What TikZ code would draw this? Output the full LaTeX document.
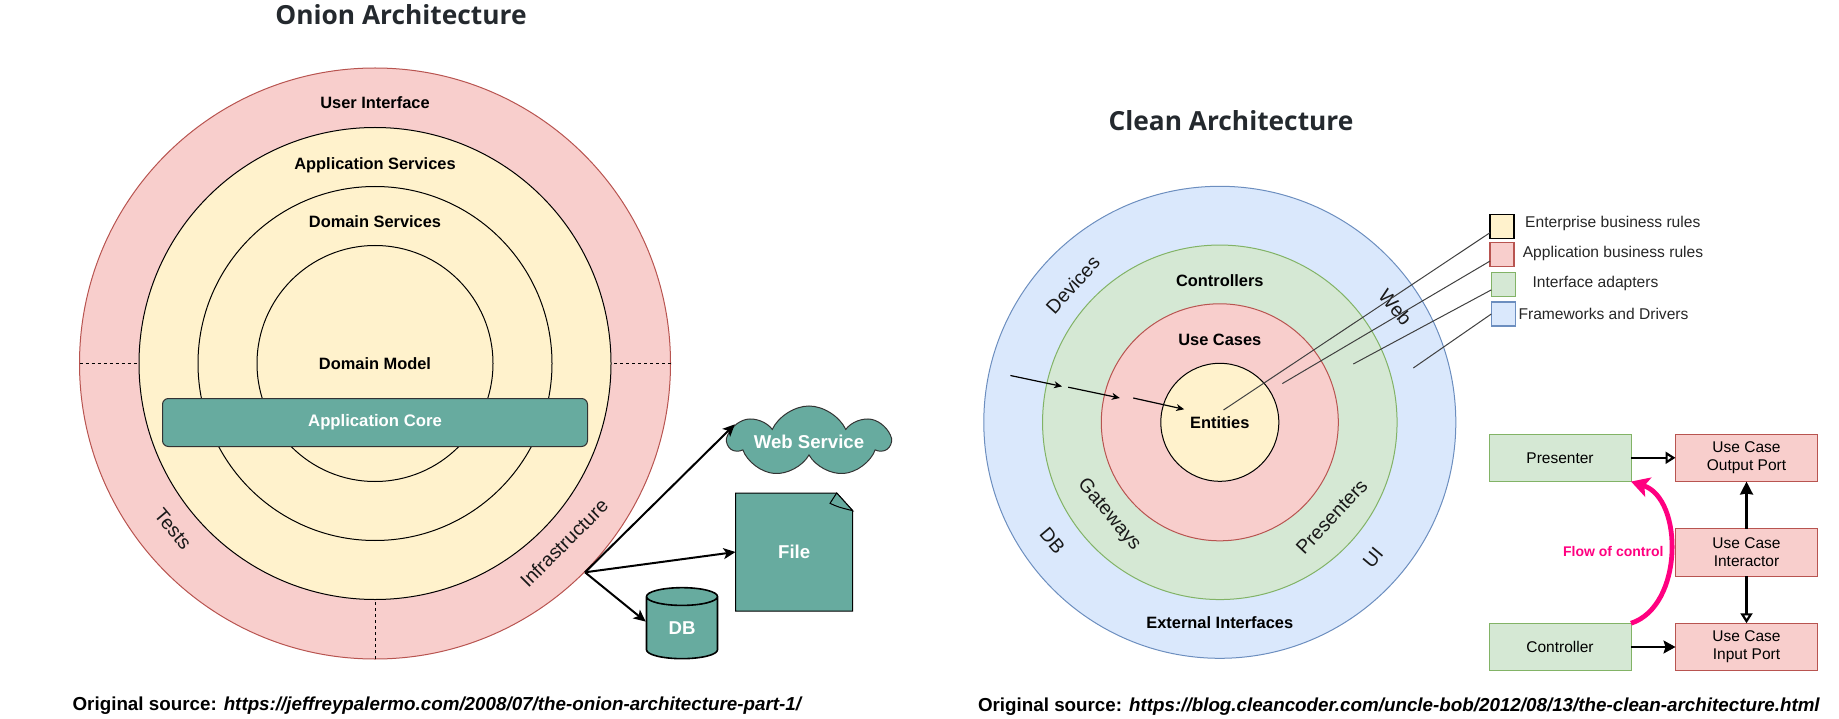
\documentclass[tikz,border=0pt]{standalone}
\usepackage{fontspec}
\setmainfont{Liberation Sans}
\newfontfamily\titlefont{Open Sans}
\usepackage{tikz}
\usetikzlibrary{shapes, shapes.geometric, shapes.symbols, positioning, arrows.meta, calc}

\definecolor{redfill}{HTML}{F8CECC}
\definecolor{reddraw}{HTML}{B85450}
\definecolor{yellowfill}{HTML}{FFF2CC}
\definecolor{greenfill}{HTML}{D5E8D4}
\definecolor{greendraw}{HTML}{82B366}
\definecolor{bluefill}{HTML}{DAE8FC}
\definecolor{bluedraw}{HTML}{6C8EBF}
\definecolor{tealfill}{HTML}{67AB9F}
\definecolor{titleink}{HTML}{24292E}
\definecolor{flowpink}{HTML}{FF0080}

\begin{document}
\begin{tikzpicture}[
    x=1pt, y=-1pt,
    ring/.style={circle, draw=black, fill=yellowfill, inner sep=0pt, outer sep=0pt, line width=1pt},
    bigtitle/.style={font=\titlefont\fontsize{26.3}{30}\selectfont\bfseries, text=titleink},
    label/.style={font=\fontsize{16.4}{19}\selectfont\bfseries, inner sep=0pt},
    slanted/.style={font=\fontsize{19.5}{22}\selectfont, inner sep=0pt, text=black!90},
    whitelabel/.style={font=\fontsize{18.6}{21}\selectfont\bfseries, text=white},
    plain/.style={font=\fontsize{15.6}{18}\selectfont, inner sep=0pt, text=black!85},
    source/.style={font=\fontsize{18.8}{22}\selectfont\bfseries, inner sep=0pt},
    legendbox/.style={draw, minimum size=24pt, inner sep=0pt, outer sep=0pt, line width=1.2pt},
    portbox/.style={draw=reddraw, fill=redfill, minimum width=142pt, minimum height=47.5pt, inner sep=0pt, outer sep=0pt, align=center, line width=1pt, font=\fontsize{15.5}{18}\selectfont},
    adapterbox/.style={draw=greendraw, fill=greenfill, minimum width=142pt, minimum height=47.5pt, inner sep=0pt, outer sep=0pt, line width=1pt, font=\fontsize{15.5}{18}\selectfont},
    link/.style={-{Stealth[length=12pt, width=11pt, inset=3pt]}, line width=2pt},
    hollow/.style={-{Triangle[open, fill=white, length=10pt, width=12pt]}, line width=2.2pt},
    solid head/.style={-{Stealth[length=13pt, width=13pt, inset=1pt]}, line width=2.2pt},
    small link/.style={-{Stealth[length=8pt, width=7pt, inset=2.5pt]}, line width=1.2pt},
    leader/.style={draw=black!75, line width=1pt}
]
    % --- ONION ARCHITECTURE ---
    \useasboundingbox (0,0) rectangle (1839,719);
    \node[bigtitle] (oniontitle) at (401,15) {Onion Architecture};

    \node[ring, draw=reddraw, fill=redfill, minimum size=591pt] (uiring) at (375,363.5) {};
    \node[ring, minimum size=472pt] (servicering) at (375,363.5) {};
    \node[ring, minimum size=354pt] (domainring) at (375,363.5) {};
    \node[ring, minimum size=236pt, label] (modelring) at (375,363.5) {Domain Model};

    % layer borders
    \draw[dashed] (uiring.west)--(servicering.west);
    \draw[dashed] (uiring.east)--(servicering.east);
    \draw[dashed] (uiring.south)--(servicering.south);

    \node[draw=black!80, fill=tealfill, rounded corners=6pt, minimum width=425pt, minimum height=48pt, inner sep=0pt, line width=1pt, font=\fontsize{16.7}{19}\selectfont\bfseries, text=white] (core) at (375,422.5) {Application Core};

    \node[label] (ui) at (375,103) {User Interface};
    \node[label] (appservices) at (375,165.6) {Application Services};
    \node[label] (domainservices) at (375,221.5) {Domain Services};
    \node[slanted, rotate=-50] (tests) at (173,529) {Tests};
    \node[slanted, rotate=45] (infra) at (564,543) {Infrastructure};

    % outside world
    \node[draw=black!80, fill=tealfill, shape=cloud, cloud puffs=7, cloud puff arc=130, cloud ignores aspect, minimum width=160pt, minimum height=71pt, inner sep=0pt, line width=1pt, whitelabel] (webservice) at (809,441.5) {Web Service};

    \filldraw[fill=tealfill, draw=black, line width=1pt] (735.7,493) -- (836.7,493) -- (852.7,510.7) -- (852.7,611) -- (735.7,611) -- cycle;
    \filldraw[fill=tealfill, draw=black, line width=1pt] (836.7,493) .. controls (834,498) .. (830,503.3) .. controls (838,507) .. (852.7,510.7) -- cycle;
    \node[whitelabel, minimum width=117pt, minimum height=118pt, inner sep=0pt] (file) at (794.2,552) {File};

    \node[draw=black, fill=tealfill, shape=cylinder, shape border rotate=90, aspect=0.66, minimum width=71pt, minimum height=71pt, inner sep=0pt, line width=1.6pt, whitelabel] (db) at (682,628) {DB};

    \coordinate (infraout) at (585,572.3);
    \draw[link] (infraout)--(webservice.167);
    \draw[link] (infraout)--(file.west);
    \draw[link] (infraout)--(db.170);

    \node[source] (onionsource) at (437.7,705.5) {Original source: \textit{https://jeffreypalermo.com/2008/07/the-onion-architecture-part-1/}};

    % --- CLEAN ARCHITECTURE ---
    \node[bigtitle] (cleantitle) at (1231,121) {Clean Architecture};

    \node[ring, draw=bluedraw, fill=bluefill, minimum size=472pt] (frameworks) at (1219.8,422.3) {};
    \node[ring, draw=greendraw, fill=greenfill, minimum size=354.5pt] (adapters) at (1219.8,422.3) {};
    \node[ring, draw=reddraw, fill=redfill, minimum size=237pt] (usecases) at (1219.8,422.3) {};
    \node[ring, minimum size=118pt, label] (entities) at (1219.8,422.3) {Entities};

    \node[label] (controllers) at (1219.8,280.8) {Controllers};
    \node[label] (usecaselabel) at (1219.8,340) {Use Cases};
    \node[label] (external) at (1219.8,623) {External Interfaces};
    \node[slanted, rotate=48] (devices) at (1072.7,284.8) {Devices};
    \node[slanted, rotate=-50] (web) at (1395.5,307) {Web};
    \node[slanted, rotate=-50] (gateways) at (1109,515) {Gateways};
    \node[slanted, rotate=47] (presenters) at (1331.7,517) {Presenters};
    \node[slanted, rotate=-50] (dblabel) at (1052.5,540.6) {DB};
    \node[slanted, rotate=50] (uilabel) at (1373,557.7) {UI};

    % incoming arrows
    \coordinate (inA) at (1010.4,375.5);
    \coordinate (outA) at (1062,386.4);
    \coordinate (inB) at (1068.2,387.2);
    \coordinate (outB) at (1119.8,398);
    \coordinate (inC) at (1133.2,398);
    \coordinate (outC) at (1184.2,409.3);
    \draw[small link] (inA)--(outA);
    \draw[small link] (inB)--(outB);
    \draw[small link] (inC)--(outC);

    % legend
    \node[legendbox, draw=black, fill=yellowfill] (legendA) at (1502,226.3) {};
    \node[legendbox, draw=reddraw, fill=redfill] (legendB) at (1502,254.7) {};
    \node[legendbox, draw=greendraw, fill=greenfill] (legendC) at (1503.3,284.3) {};
    \node[legendbox, draw=bluedraw, fill=bluefill] (legendD) at (1503.3,314) {};
    \node[plain] (textA) at (1612.8,223) {Enterprise business rules};
    \node[plain] (textB) at (1613,253.7) {Application business rules};
    \node[plain] (textC) at (1595.5,283.3) {Interface adapters};
    \node[plain] (textD) at (1603.5,314) {Frameworks and Drivers};

    \coordinate (pointA) at (1223.5,410);
    \coordinate (pointB) at (1282.3,383.6);
    \coordinate (pointC) at (1353.3,364);
    \coordinate (pointD) at (1413.3,368);
    \draw[leader] (legendA.208)--(pointA);
    \draw[leader] (legendB.208)--(pointB);
    \draw[leader] (legendC.205)--(pointC);
    \draw[leader] (legendD.west)--(pointD);

    % flow of control boxes
    \node[adapterbox] (presenter) at (1560,457.8) {Presenter};
    \node[portbox] (outputport) at (1746.5,457.8) {Use Case\\Output Port};
    \node[portbox] (interactor) at (1746.5,552.3) {Use Case\\Interactor};
    \node[portbox] (inputport) at (1746.5,647) {Use Case\\Input Port};
    \node[adapterbox] (controller) at (1560,647) {Controller};

    \draw[hollow] (presenter)--(outputport);
    \draw[link, -{Stealth[length=12pt, width=13pt, inset=2pt]}] (controller)--(inputport);
    \draw[solid head] (interactor)--(outputport);
    \draw[hollow] (interactor)--(inputport);
    \draw[draw=flowpink, line width=4.8pt, -{Stealth[length=18pt, width=20pt, inset=4pt]}] (controller.north east) to[bend right=72] (presenter.south east);
    \node[font=\fontsize{14}{17}\selectfont\bfseries, text=flowpink, inner sep=0pt] (flowlabel) at (1613.3,551.3) {Flow of control};

    \node[source] (cleansource) at (1399,706.5) {Original source: \textit{https://blog.cleancoder.com/uncle-bob/2012/08/13/the-clean-architecture.html}};
\end{tikzpicture}
\end{document}
